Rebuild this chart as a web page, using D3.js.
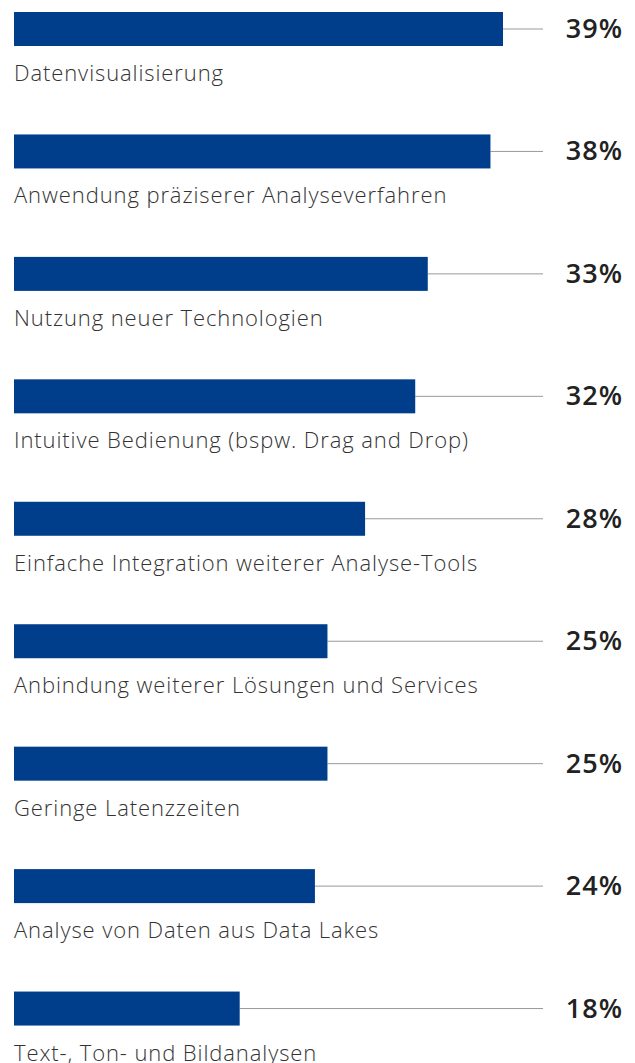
<!DOCTYPE html>
<html>
<head>
<meta charset="utf-8">
<script src="https://cdn.jsdelivr.net/npm/d3@7"></script>
<style>
  body { margin: 0; background: #fff; }
  .cat { font-family: "Open Sans", sans-serif; font-weight: 300; font-size: 22px; letter-spacing: 0.9px; fill: #333; }
  .val { font-family: "Open Sans", sans-serif; font-weight: 600; font-size: 27px; letter-spacing: 1px; fill: #222; }
</style>
</head>
<body>
<svg id="chart" width="635" height="1063"></svg>
<script>
var categories = [
  "Datenvisualisierung",
  "Anwendung präziserer Analyseverfahren",
  "Nutzung neuer Technologien",
  "Intuitive Bedienung (bspw. Drag and Drop)",
  "Einfache Integration weiterer Analyse-Tools",
  "Anbindung weiterer Lösungen und Services",
  "Geringe Latenzzeiten",
  "Analyse von Daten aus Data Lakes",
  "Text-, Ton- und Bildanalysen"
];
var values = [39, 38, 33, 32, 28, 25, 25, 24, 18];

var svg = d3.select("#chart");

var x = d3.scaleLinear().domain([0, 39]).range([14, 503]);
var y = d3.scaleBand().domain(categories).range([12, 1114]).paddingInner(0).paddingOuter(0);
var barH = 34;
var lineEnd = 543;

var g = svg.selectAll("g.row").data(categories).join("g")
  .attr("class", "row")
  .attr("transform", function(d) { return "translate(0," + y(d) + ")"; });

g.append("line")
  .attr("x1", function(d, i) { return x(values[i]); })
  .attr("x2", lineEnd)
  .attr("y1", barH / 2)
  .attr("y2", barH / 2)
  .attr("stroke", "#999")
  .attr("stroke-width", 1);

g.append("rect")
  .attr("x", x(0))
  .attr("y", 0)
  .attr("width", function(d, i) { return x(values[i]) - x(0); })
  .attr("height", barH)
  .attr("fill", "#003e8c");

g.append("text")
  .attr("class", "val")
  .attr("x", 623)
  .attr("y", barH / 2 + 9)
  .attr("text-anchor", "end")
  .text(function(d, i) { return values[i] + "%"; });

g.append("text")
  .attr("class", "cat")
  .attr("x", 14)
  .attr("y", 69)
  .text(function(d) { return d; });
</script>
</body>
</html>
